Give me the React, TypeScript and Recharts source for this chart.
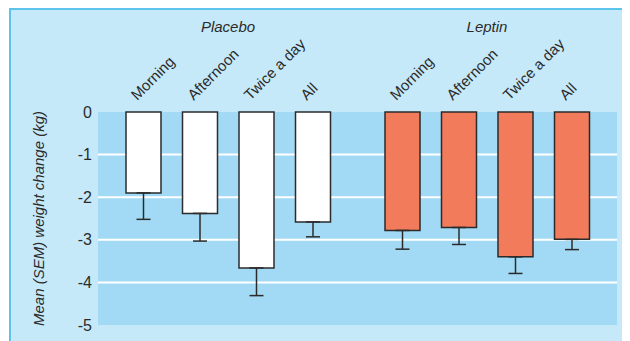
import { BarChart, Bar, XAxis, YAxis, CartesianGrid, ErrorBar } from "recharts";

const periods = ["Morning", "Afternoon", "Twice a day", "All"];
const placeboMean = [-1.9, -2.38, -3.66, -2.58];
const placeboSem = [0.62, 0.65, 0.65, 0.35];
const leptinMean = [-2.78, -2.71, -3.4, -2.99];
const leptinSem = [0.44, 0.4, 0.39, 0.24];
const yTicks = [0, -1, -2, -3, -4, -5];
const groups = ["Placebo", "Leptin"];

const rows = periods.map((p, i) => ({
  period: p,
  placebo: placeboMean[i],
  placeboErr: [placeboSem[i], 0],
  leptin: leptinMean[i],
  leptinErr: [leptinSem[i], 0],
}));

const font = "'Liberation Sans', Arial, sans-serif";
const ink = "#2b2b2b";

function PeriodTick({ x, y, payload }: any) {
  return (
    <text
      x={x - 6}
      y={y}
      transform={`rotate(-45, ${x - 6}, ${y})`}
      textAnchor="start"
      fontSize={15}
      fontFamily={font}
      fill={ink}
    >
      {payload.value}
    </text>
  );
}

function YLabel({ viewBox }: any) {
  const cx = viewBox.x + 27;
  const cy = viewBox.y + viewBox.height / 2;
  return (
    <text
      x={cx}
      y={cy}
      transform={`rotate(-90, ${cx}, ${cy})`}
      textAnchor="middle"
      dominantBaseline="central"
      fontSize={15}
      fontStyle="italic"
      fontFamily={font}
      fill={ink}
    >
      Mean (SEM) weight change (kg)
    </text>
  );
}

export default function App() {
  return (
    <div
      style={{
        position: "relative",
        marginLeft: 1,
        width: 619,
        height: 331,
        background: "#c6e9f9",
        borderTop: "2px solid #5cc3ec",
        borderLeft: "2px solid #5cc3ec",
        fontFamily: font,
      }}
    >
      {groups.map((g, i) => (
        <div
          key={g}
          style={{
            position: "absolute",
            left: i === 0 ? 217 : 476,
            top: 8,
            transform: "translateX(-50%)",
            fontSize: 15,
            lineHeight: "18px",
            fontStyle: "italic",
            color: ink,
          }}
        >
          {g}
        </div>
      ))}
      <BarChart
        width={619}
        height={331}
        data={rows}
        margin={{ top: 100, right: 13, bottom: 16, left: 0 }}
      >
        <CartesianGrid
          vertical={false}
          horizontalValues={[-1, -2, -3, -4]}
          stroke="#ffffff"
          strokeWidth={2}
          fill="#a2daf5"
          fillOpacity={1}
        />
        <XAxis
          xAxisId="p"
          dataKey="period"
          orientation="top"
          height={1}
          axisLine={false}
          tickLine={false}
          tickSize={0}
          tickMargin={10}
          interval={0}
          padding={{ left: 17, right: 276 }}
          tick={<PeriodTick />}
        />
        <XAxis
          xAxisId="l"
          dataKey="period"
          orientation="top"
          height={1}
          axisLine={false}
          tickLine={false}
          tickSize={0}
          tickMargin={11}
          interval={0}
          padding={{ left: 276, right: 17 }}
          tick={<PeriodTick />}
        />
        <YAxis
          width={87}
          domain={[-5, 0]}
          ticks={yTicks}
          interval={0}
          axisLine={false}
          tickLine={false}
          tickSize={0}
          tickMargin={6}
          tick={{ fontSize: 16, fill: ink, fontFamily: font }}
          label={<YLabel />}
        />
        <Bar
          xAxisId="p"
          dataKey="placebo"
          barSize={35}
          fill="#ffffff"
          stroke={ink}
          strokeWidth={1.5}
          isAnimationActive={false}
        >
          <ErrorBar dataKey="placeboErr" width={7} stroke={ink} strokeWidth={1.5} direction="y" />
        </Bar>
        <Bar
          xAxisId="l"
          dataKey="leptin"
          barSize={35}
          fill="#f27b5c"
          stroke={ink}
          strokeWidth={1.5}
          isAnimationActive={false}
        >
          <ErrorBar dataKey="leptinErr" width={7} stroke={ink} strokeWidth={1.5} direction="y" />
        </Bar>
      </BarChart>
    </div>
  );
}
